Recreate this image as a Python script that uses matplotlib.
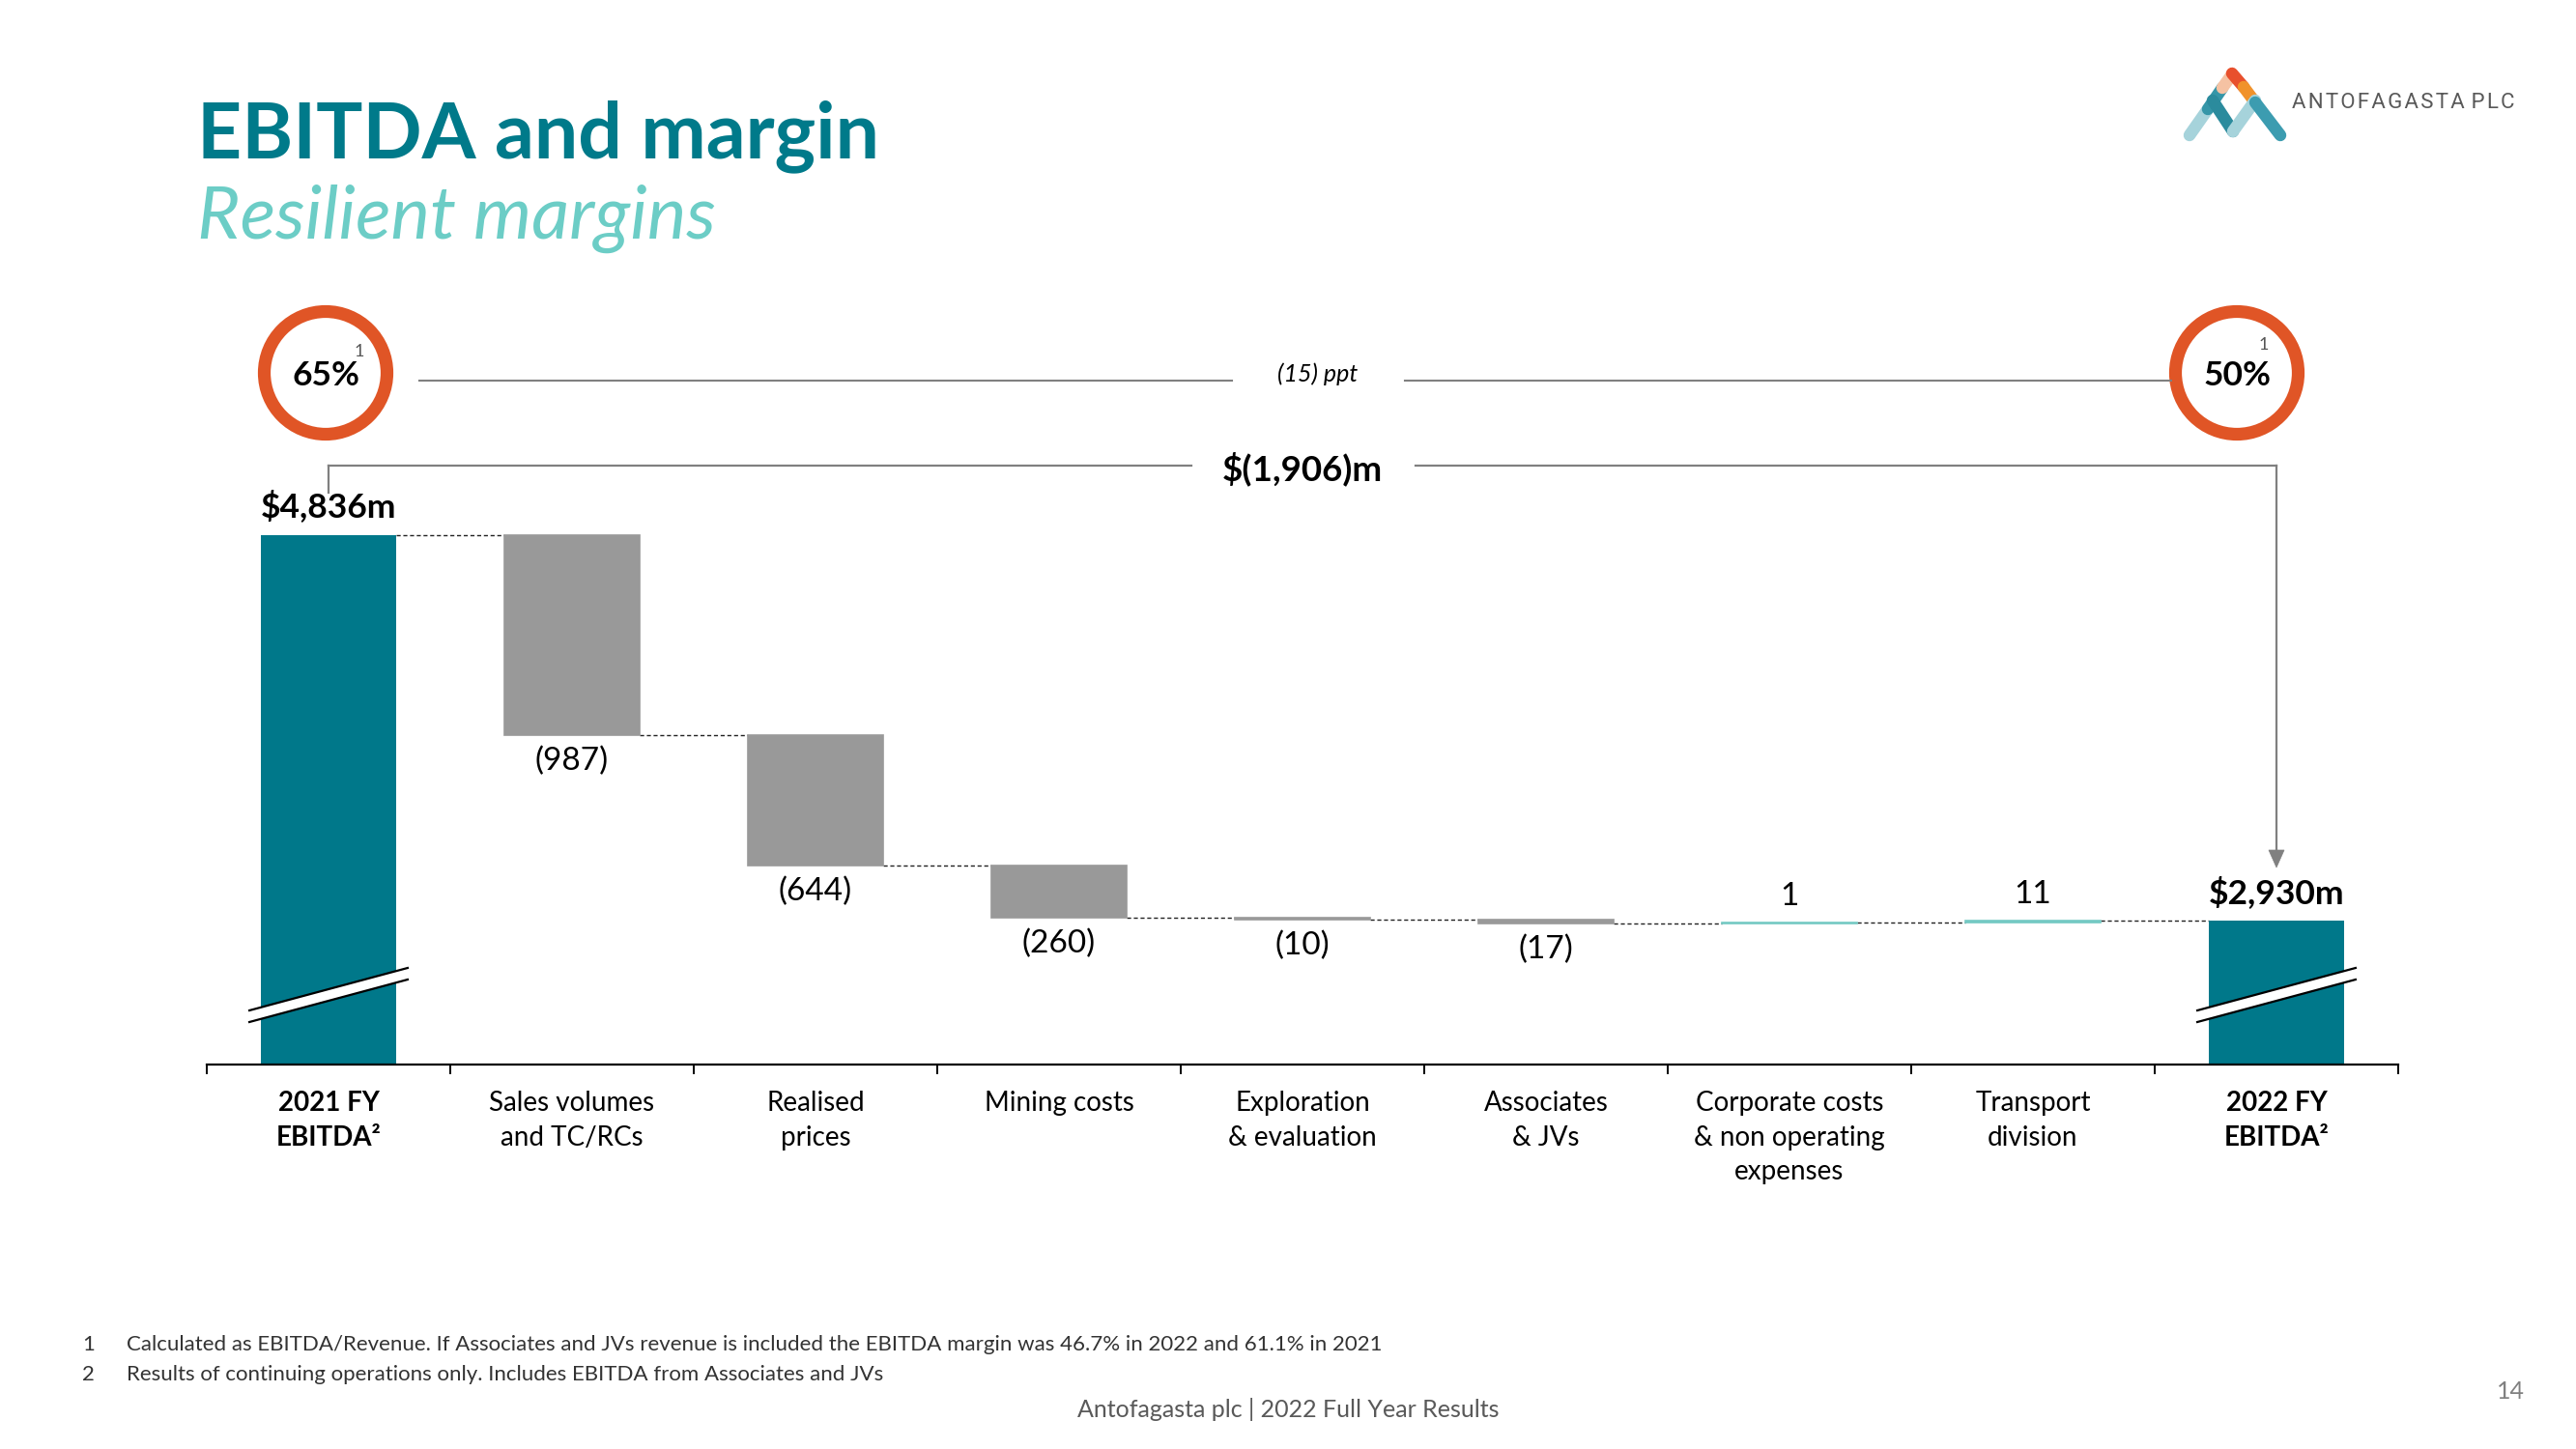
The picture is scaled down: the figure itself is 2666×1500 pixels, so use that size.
import matplotlib
matplotlib.use("Agg")
import matplotlib.pyplot as plt
from matplotlib.patches import Circle, Polygon
import numpy as np

# ---------------- data ----------------
categories = ["2021 FY\nEBITDA\u00b2", "Sales volumes\nand TC/RCs", "Realised\nprices",
              "Mining costs", "Exploration\n& evaluation", "Associates\n& JVs",
              "Corporate costs\n& non operating\nexpenses", "Transport\ndivision",
              "2022 FY\nEBITDA\u00b2"]
start_value = 4836
changes = [-987, -644, -260, -10, -17, 1, 11]
end_value = 2930
change_labels = ["(987)", "(644)", "(260)", "(10)", "(17)", "1", "11"]
total_labels = ["$4,836m", "$2,930m"]
margin_labels = ["65%", "50%"]
margin_change_label = "(15) ppt"
ebitda_change_label = "$(1,906)m"
footnotes = ["Calculated as EBITDA/Revenue. If Associates and JVs revenue is included the EBITDA margin was 46.7% in 2022 and 61.1% in 2021",
             "Results of continuing operations only. Includes EBITDA from Associates and JVs"]

# ---------------- style ----------------
W, H, DPI = 2666, 1500, 100
plt.rcParams["font.family"] = ["Lato", "DejaVu Sans"]
TEAL = "#00788A"
GREY = "#999999"
POS = "#74C9C3"
ORANGE = "#E05526"
LINEGREY = "#808080"

fig = plt.figure(figsize=(W / DPI, H / DPI), dpi=DPI)
fig.patch.set_facecolor("white")

# main chart axes
ax_l, ax_r, ax_b, ax_t = 214, 2482, 1102, 300
ax = fig.add_axes([ax_l / W, 1 - ax_b / H, (ax_r - ax_l) / W, (ax_b - ax_t) / H])
ymin = 2220
ymax = ymin + (ax_b - ax_t) / 0.2096
ax.set_xlim(-0.5, len(categories) - 0.5)
ax.set_ylim(ymin, ymax)
for s in ["top", "left", "right"]:
    ax.spines[s].set_visible(False)
ax.spines["bottom"].set_linewidth(1.6)
ax.spines["bottom"].set_color("black")
ax.set_yticks([])
ax.set_xticks(np.arange(-0.5, len(categories), 1.0))
ax.set_xticklabels([])
ax.tick_params(axis="x", direction="out", length=7.5, width=1.4, color="black")
ax.patch.set_alpha(0)

bw = 0.556
# totals
ax.bar(0, start_value, width=bw, color=TEAL, zorder=2)
ax.bar(len(categories) - 1, end_value, width=bw, color=TEAL, zorder=2)

cum = start_value
levels = [start_value]
for i, c in enumerate(changes, start=1):
    bottom = min(cum, cum + c)
    col = GREY if c < 0 else POS
    ax.bar(i, abs(c), bottom=bottom, width=bw, color=col, edgecolor=col, linewidth=1.2, zorder=2)
    cum += c
    levels.append(cum)
    if c < 0:
        ax.annotate(change_labels[i - 1], xy=(i, bottom), xytext=(0, -19.5), textcoords="offset points",
                    ha="center", va="center", fontsize=24, color="black")
    else:
        ax.annotate(change_labels[i - 1], xy=(i, bottom + abs(c)), xytext=(0, 19.5), textcoords="offset points",
                    ha="center", va="center", fontsize=24, color="black")

# connectors
for i in range(len(categories) - 1):
    ax.plot([i + bw / 2, i + 1 - bw / 2], [levels[i], levels[i]], color="#222222", lw=1.0,
            dashes=(3, 2), zorder=1)

# total labels
ax.annotate(total_labels[0], xy=(0, start_value), xytext=(0, 21), textcoords="offset points",
            ha="center", va="center", fontsize=25.5, fontweight="bold")
ax.annotate(total_labels[1], xy=(len(categories) - 1, end_value), xytext=(0, 21), textcoords="offset points",
            ha="center", va="center", fontsize=25.5, fontweight="bold")

# break marks
def ypx(p):
    return ymin + (ax_b - p) / 0.2096

for xi in [0, len(categories) - 1]:
    xl, xr = xi - 0.325, xi + 0.325
    top_l, top_r = ypx(1046), ypx(1002)
    bot_l, bot_r = ypx(1058), ypx(1014)
    ax.add_patch(Polygon([[xl, top_l], [xr, top_r], [xr, bot_r], [xl, bot_l]], closed=True,
                         facecolor="white", edgecolor="none", zorder=3, clip_on=False))
    ax.plot([xl, xr], [top_l, top_r], color="black", lw=1.6, zorder=4, clip_on=False)
    ax.plot([xl, xr], [bot_l, bot_r], color="black", lw=1.6, zorder=4, clip_on=False)

# category labels
for i, lab in enumerate(categories):
    bold = i in (0, len(categories) - 1)
    ax.annotate(lab, xy=(i, 0), xycoords=("data", "axes fraction"), xytext=(0, -19.5),
                textcoords="offset points", ha="center", va="top", fontsize=20,
                linespacing=1.45, fontweight="bold" if bold else "normal", color="black")

# ---------------- overlay in pixel coordinates ----------------
ov = fig.add_axes([0, 0, 1, 1], zorder=5)
ov.set_xlim(0, W)
ov.set_ylim(H, 0)
ov.axis("off")
ov.patch.set_alpha(0)

def to_px(x, y):
    dx, dy = ax.transData.transform((x, y))
    return dx, H - dy

# title
ov.text(204, 163, "EBITDA and margin", fontsize=58, fontweight="bold", color="#007A8A",
        ha="left", va="baseline")
ov.text(204, 247, "Resilient margins", fontsize=55, style="italic", color="#6CCDC6",
        ha="left", va="baseline")

# margin circles
for (cx, lab, sx, sy) in [(337, margin_labels[0], 372, 364), (2315, margin_labels[1], 2343, 357)]:
    ov.add_patch(Circle((cx, 386), 63.5, facecolor="white", edgecolor=ORANGE, linewidth=9.5))
    ov.text(cx, 389, lab, fontsize=25.5, fontweight="bold", ha="center", va="center")
    ov.text(sx, sy, "1", fontsize=13, color="#555555", ha="center", va="center")

ov.plot([434, 1275], [394, 394], color=LINEGREY, lw=1.5)
ov.plot([1454, 2247], [394, 394], color=LINEGREY, lw=1.5)
ov.text(1364, 387, margin_change_label, fontsize=18, style="italic", ha="center", va="center")

# EBITDA change bracket
x0, _ = to_px(0, start_value)
x8, _ = to_px(len(categories) - 1, end_value)
by = 482
ov.plot([x0, x0], [510, by], color=LINEGREY, lw=1.6)
ov.plot([x0, 1233], [by, by], color=LINEGREY, lw=1.6)
ov.plot([1465, x8], [by, by], color=LINEGREY, lw=1.6)
ov.plot([x8, x8], [by, 882], color=LINEGREY, lw=1.6)
ov.add_patch(Polygon([[x8 - 8, 880], [x8 + 8, 880], [x8, 898]], closed=True, facecolor=LINEGREY,
                     edgecolor=LINEGREY, lw=0.5))
ov.text(1348, 485, ebitda_change_label, fontsize=26.5, fontweight="bold", ha="center", va="center")

# logo
segs = [((2266, 140), (2285, 113), "#A6D3DB"),
        ((2285, 113), (2300, 91), "#3596A8"),
        ((2300, 91), (2310, 77), "#F5C2A3"),
        ((2310, 76), (2322, 90), "#E8502D"),
        ((2322, 90), (2334, 106), "#F0922B"),
        ((2290, 104), (2311, 136), "#2B8B9D"),
        ((2311, 136), (2334, 104), "#A6D3DB"),
        ((2334, 106), (2360, 140), "#3C9CB0")]
for (a, b, c) in segs:
    ov.plot([a[0], b[0]], [a[1], b[1]], color=c, lw=9, solid_capstyle="round")
ov.text(2372, 106, "A N T O F A G A S T A   P L C".replace(" ", "\u200a"), fontsize=16,
        color="#595959", ha="left", va="center", family=["Roboto", "DejaVu Sans"])

# footnotes
for k, (yy, t) in enumerate(zip([1392, 1423], footnotes)):
    ov.text(85, yy, str(k + 1), fontsize=16, color="#333333", ha="left", va="center")
    ov.text(131, yy, t, fontsize=16, color="#333333", ha="left", va="center")
ov.text(1333, 1459, "Antofagasta plc | 2022 Full Year Results", fontsize=18, color="#595959",
        ha="center", va="center")
ov.text(2598, 1440, "14", fontsize=18, color="#808080", ha="center", va="center")

fig.savefig("out.png", dpi=DPI, facecolor="white")
